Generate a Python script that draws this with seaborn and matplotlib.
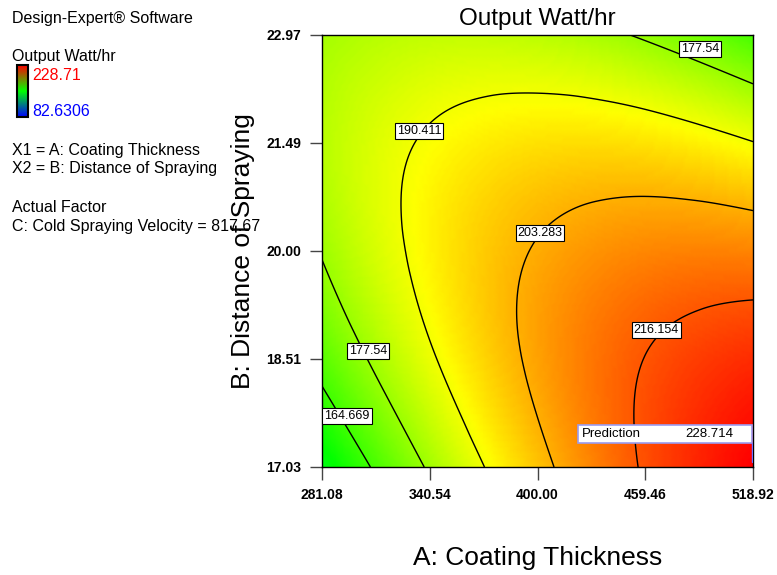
import numpy as np
import matplotlib
matplotlib.use("Agg")
import matplotlib.pyplot as plt
import matplotlib.tri as mtri
from matplotlib.colors import LinearSegmentedColormap, Normalize
from matplotlib.cm import ScalarMappable
from matplotlib.patches import Rectangle
import seaborn as sns

sns.set_style("ticks")
plt.rcParams["font.family"] = ["Liberation Sans", "DejaVu Sans"]
plt.rcParams["text.color"] = "black"
plt.rcParams["axes.labelcolor"] = "black"
plt.rcParams["xtick.labelcolor"] = "black"
plt.rcParams["ytick.labelcolor"] = "black"

# factor levels (A: coating thickness, B: distance of spraying)
coating_thickness = [281.08, 340.54, 400.00, 459.46, 518.92]
spraying_distance = [17.03, 18.515, 20.00, 21.485, 22.97]
x_tick_labels = ["281.08", "340.54", "400.00", "459.46", "518.92"]
y_tick_labels = ["17.03", "18.51", "20.00", "21.49", "22.97"]

# output watt/hr, one list per distance row (bottom to top)
output_at_17_03 = [152.1, 178.8, 200.4, 217.1, 228.7]
output_at_18_51 = [168.2, 189.2, 205.3, 216.3, 222.3]
output_at_20_00 = [178.1, 193.5, 203.9, 209.2, 209.6]
output_at_21_49 = [181.7, 191.5, 196.2, 195.9, 190.7]
output_at_22_97 = [179.1, 183.2, 182.3, 176.4, 165.5]

contour_levels = [164.669, 177.54, 190.411, 203.283, 216.154]
output_low, output_high = 82.6306, 228.71
prediction = 228.714

zz = np.array([output_at_17_03, output_at_18_51, output_at_20_00,
               output_at_21_49, output_at_22_97])
xx, yy = np.meshgrid(coating_thickness, spraying_distance)

# work in coded units (-1..1) so the triangles are not squashed
x_mid, x_half = np.mean(coating_thickness), np.ptp(coating_thickness) / 2
y_mid, y_half = np.mean(spraying_distance), np.ptp(spraying_distance) / 2
tri = mtri.Triangulation(((xx - x_mid) / x_half).ravel(), ((yy - y_mid) / y_half).ravel())
interp = mtri.CubicTriInterpolator(tri, zz.ravel(), kind="min_E")
fine_tri, fine_z = mtri.UniformTriRefiner(tri).refine_field(zz.ravel(), triinterpolator=interp, subdiv=5)
data_tri = mtri.Triangulation(fine_tri.x * x_half + x_mid, fine_tri.y * y_half + y_mid, fine_tri.triangles)

de_cmap = LinearSegmentedColormap.from_list(
    "design_expert", [(0, "#0000ff"), (0.25, "#00ffff"), (0.5, "#00ff00"), (0.75, "#ffff00"), (1, "#ff0000")])
norm = Normalize(output_low, output_high)

fig = plt.figure(figsize=(7.77, 5.75), dpi=100)
ax = fig.add_axes([322 / 777, 1 - 467 / 575, 431 / 777, 432 / 575])

ax.tripcolor(data_tri, fine_z, shading="gouraud", cmap=de_cmap, norm=norm)
cs = ax.tricontour(data_tri, fine_z, levels=contour_levels, colors="black", linewidths=1)

label_spots = [(294.9, 17.73), (306.5, 18.62), (334.6, 21.65),
               (401.4, 20.25), (465.4, 18.91), (489.7, 22.78)]
ax.set_xlim(coating_thickness[0], coating_thickness[-1])
ax.set_ylim(spraying_distance[0], spraying_distance[-1])
labels = ax.clabel(cs, contour_levels, fmt="%g", inline=False, manual=label_spots, fontsize=9)
for t, spot in zip(labels, label_spots):
    t.set_position(spot)
    t.set_rotation(0)
    t.set_color("black")
    t.set_bbox(dict(facecolor="white", edgecolor="black", boxstyle="square,pad=0.15", linewidth=0.8))

# prediction flag at the corner
ax.add_patch(Rectangle((0.594, 0.0556), 0.404, 0.0416, transform=ax.transAxes,
                       facecolor="white", edgecolor="#9b9bf0", linewidth=1.2, zorder=5))
ax.text(0.603, 0.0764, "Prediction", transform=ax.transAxes, fontsize=9.5, va="center", zorder=6)
ax.text(0.955, 0.0764, f"{prediction:.3f}", transform=ax.transAxes, fontsize=9.5,
        va="center", ha="right", zorder=6)
ax.plot([0.998, 0.998], [0.0556, 0.012], transform=ax.transAxes, color="#7070ff", lw=1, zorder=6)

ax.set_xticks(coating_thickness)
ax.set_xticklabels(x_tick_labels, fontweight="bold")
ax.set_yticks(spraying_distance)
ax.set_yticklabels(y_tick_labels, fontweight="bold")
ax.tick_params(direction="out", length=9, width=1, color="#444444", labelsize=10, pad=6)
for s in ax.spines.values():
    s.set_color("black")
    s.set_linewidth(1)

ax.set_title("Output Watt/hr", fontsize=17.5, pad=7)
ax.set_xlabel("A: Coating Thickness", fontsize=19, labelpad=32)
ax.set_ylabel("B: Distance of Spraying", fontsize=19, labelpad=8)

# left-hand legend block
fs = 11.5
fig.text(12 / 777, 1 - 18 / 575, "Design-Expert\u00ae Software", fontsize=fs, va="center")
fig.text(12 / 777, 1 - 57 / 575, "Output Watt/hr", fontsize=fs, va="center")
legend_cmap = LinearSegmentedColormap.from_list("legend", ["#0000ff", "#00ff00", "#ff0000"])
cax = fig.add_axes([17 / 777, 1 - 117 / 575, 11 / 777, 52 / 575])
cbar = fig.colorbar(ScalarMappable(norm=norm, cmap=legend_cmap), cax=cax, ticks=[])
cbar.outline.set_edgecolor("black")
cbar.outline.set_linewidth(1.5)
fig.text(32 / 777, 1 - 75 / 575, f"{output_high:.2f}", color="#ff0000", fontsize=fs, va="center")
fig.text(32 / 777, 1 - 112 / 575, f"{output_low:g}", color="#0000ff", fontsize=fs, va="center")
fig.text(12 / 777, 1 - 151 / 575, "X1 = A: Coating Thickness", fontsize=fs, va="center")
fig.text(12 / 777, 1 - 169 / 575, "X2 = B: Distance of Spraying", fontsize=fs, va="center")
fig.text(12 / 777, 1 - 207 / 575, "Actual Factor", fontsize=fs, va="center")
fig.text(12 / 777, 1 - 226 / 575, "C: Cold Spraying Velocity = 817.67", fontsize=fs, va="center")

fig.savefig("out.png", dpi=100)
